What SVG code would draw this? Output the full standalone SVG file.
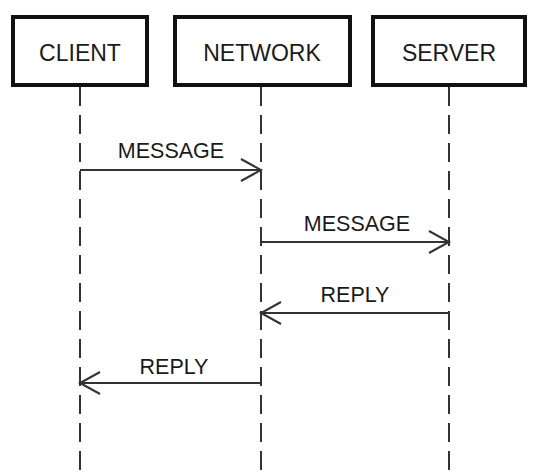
<svg xmlns="http://www.w3.org/2000/svg" width="535" height="472" viewBox="0 0 535 472">
<style>
.box{fill:#fff;stroke:#111;stroke-width:4}
.lbl{font-family:"Liberation Sans",Arial,sans-serif;font-size:23px;fill:#1a1a1a;text-anchor:middle}
.msg{font-family:"Liberation Sans",Arial,sans-serif;font-size:21.5px;fill:#1a1a1a;text-anchor:middle}
.life{stroke:#333;stroke-width:2;stroke-dasharray:19 9;fill:none}
.arr{stroke:#333;stroke-width:2;fill:none}
</style>
<defs>
<marker id="open" markerWidth="24" markerHeight="26" refX="21" refY="12" orient="auto" markerUnits="userSpaceOnUse">
<path d="M1,1 L21,12 L1,23" fill="none" stroke="#333" stroke-width="2"/>
</marker>
</defs>
<rect width="535" height="472" fill="#fff"/>
<g id="lifelines">
<line class="life" x1="80" y1="87" x2="80" y2="472"/>
<line class="life" x1="261" y1="87" x2="261" y2="472"/>
<line class="life" x1="449" y1="87" x2="449" y2="472"/>
</g>
<g id="client">
<rect class="box" x="13" y="17" width="134" height="68"/>
<text class="lbl" x="80" y="61">CLIENT</text>
</g>
<g id="network">
<rect class="box" x="175" y="17" width="175" height="68"/>
<text class="lbl" x="262" y="61">NETWORK</text>
</g>
<g id="server">
<rect class="box" x="373" y="17" width="152" height="68"/>
<text class="lbl" x="449" y="61">SERVER</text>
</g>
<g id="connectors">
<line class="arr" x1="80" y1="170" x2="261" y2="170" marker-end="url(#open)"/>
<text class="msg" x="171" y="158">MESSAGE</text>
<line class="arr" x1="261" y1="242" x2="449" y2="242" marker-end="url(#open)"/>
<text class="msg" x="357" y="231">MESSAGE</text>
<line class="arr" x1="449" y1="313" x2="261" y2="313" marker-end="url(#open)"/>
<text class="msg" x="355" y="302">REPLY</text>
<line class="arr" x1="261" y1="383" x2="80" y2="383" marker-end="url(#open)"/>
<text class="msg" x="174" y="374">REPLY</text>
</g>
</svg>
